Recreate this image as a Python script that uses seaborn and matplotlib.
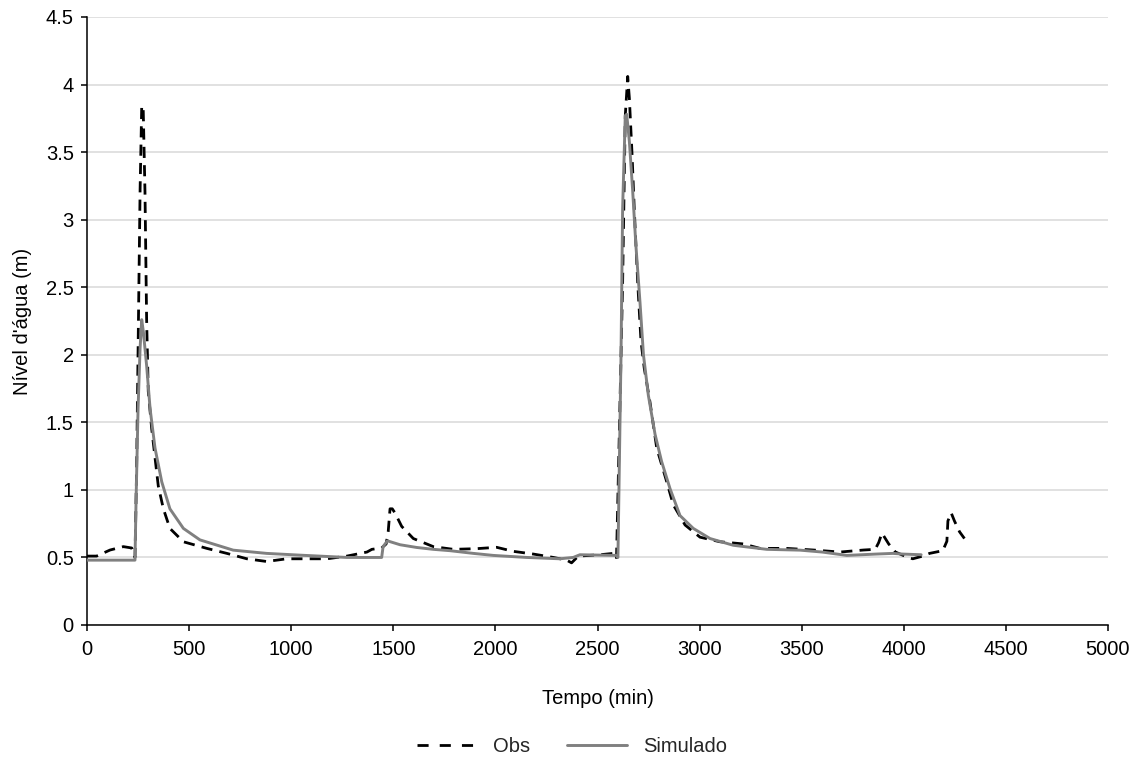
import matplotlib
matplotlib.use("Agg")
import matplotlib.pyplot as plt
import seaborn as sns
import pandas as pd
from matplotlib.lines import Line2D

# ---- data ----
obs_t = [0, 47, 113, 178, 219, 235, 243, 252, 260, 268,
         275, 284, 292, 300, 317, 349, 374, 406, 472, 587,
         685, 783, 880, 978, 1077, 1175, 1273,
         1371, 1395, 1443, 1465, 1475, 1484, 1495, 1508, 1541, 1598,
         1696, 1794, 1908, 2006, 2088, 2186, 2284, 2349, 2373, 2406,
         2512, 2577, 2593, 2607, 2623, 2636, 2648, 2656, 2669, 2680,
         2697, 2713, 2729, 2757, 2790, 2839, 2871, 2929, 3002, 3100,
         3214, 3296, 3427, 3557, 3688, 3803, 3860, 3877, 3893, 3926,
         3959, 4020, 4044, 4093, 4126, 4191, 4211, 4216, 4232, 4248,
         4273, 4297]
obs_v = [0.51, 0.51, 0.555, 0.58, 0.57, 0.5, 1.16, 2.26, 3.22, 3.84,
         3.84, 3.2, 2.26, 1.73, 1.45, 1.03, 0.86, 0.715, 0.616, 0.567,
         0.53, 0.49, 0.47, 0.49, 0.49, 0.49, 0.51,
         0.54, 0.56, 0.57, 0.60, 0.69, 0.86, 0.86, 0.83, 0.73, 0.64,
         0.58, 0.56, 0.565, 0.575, 0.545, 0.525, 0.5, 0.48, 0.46, 0.51,
         0.52, 0.53, 0.49, 1.43, 2.53, 3.77, 4.06, 3.9, 3.49, 3.08,
         2.53, 2.1, 1.9, 1.65, 1.31, 1.06, 0.89, 0.74, 0.65, 0.616,
         0.6, 0.567, 0.567, 0.555, 0.54, 0.555, 0.56, 0.61, 0.68, 0.6,
         0.54, 0.5, 0.49, 0.51, 0.53, 0.55, 0.62, 0.77, 0.83, 0.77,
         0.69, 0.64]

sim_t = [0, 235, 240, 250, 260, 268, 276, 292, 309, 333,
         366, 406, 472, 553, 716, 880, 1043, 1273,
         1443, 1450, 1471, 1533, 1614, 1696, 1778, 1892, 1990, 2153,
         2316, 2381, 2414, 2594, 2600, 2615, 2623, 2636, 2643, 2656,
         2672, 2688, 2708, 2725, 2749, 2782, 2814, 2855, 2904, 2969,
         3051, 3165, 3329, 3492, 3600, 3721, 3864, 3946, 3995, 4085]
sim_v = [0.48, 0.48, 0.9, 1.6, 2.05, 2.26, 2.17, 1.92, 1.60, 1.31,
         1.06, 0.86, 0.715, 0.63, 0.554, 0.53, 0.517, 0.5,
         0.5, 0.58, 0.623, 0.594, 0.574, 0.56, 0.55, 0.53, 0.515, 0.5,
         0.49, 0.5, 0.52, 0.515, 0.5, 1.98, 3.08, 3.77, 3.78, 3.58,
         3.22, 2.81, 2.39, 2.0, 1.70, 1.41, 1.21, 1.01, 0.81, 0.715,
         0.64, 0.59, 0.56, 0.554, 0.54, 0.515, 0.525, 0.53, 0.525, 0.52]

x_ticks = [0, 500, 1000, 1500, 2000, 2500, 3000, 3500, 4000, 4500, 5000]
y_ticks = [0, 0.5, 1, 1.5, 2, 2.5, 3, 3.5, 4, 4.5]
y_tick_labels = ["0", "0.5", "1", "1.5", "2", "2.5", "3", "3.5", "4", "4.5"]

sns.set_theme(style="white")
plt.rcParams['font.family'] = ['Liberation Sans', 'DejaVu Sans']

fig = plt.figure(figsize=(11.44, 7.62), dpi=100)
ax = fig.add_axes([87/1144, 1 - 625/762, (1108-87)/1144, (625-17)/762])

obs_df = pd.DataFrame({"t": obs_t, "v": obs_v})
sim_df = pd.DataFrame({"t": sim_t, "v": sim_v})

sns.lineplot(data=obs_df, x="t", y="v", ax=ax, color="black", linewidth=2.0,
             estimator=None, sort=False, zorder=3)
ax.lines[-1].set_dashes([4.0, 2.6])
sns.lineplot(data=sim_df, x="t", y="v", ax=ax, color="#808080", linewidth=2.1,
             estimator=None, sort=False, zorder=4)

ax.set_xlim(0, 5000)
ax.set_ylim(0, 4.5)
ax.set_xticks(x_ticks)
ax.set_xticklabels([str(v) for v in x_ticks])
ax.set_yticks(y_ticks)
ax.set_yticklabels(y_tick_labels)

ax.grid(axis="y", color="#d9d9d9", linewidth=1.1)
ax.grid(axis="x", visible=False)
ax.set_axisbelow(True)

for s in ["top", "right"]:
    ax.spines[s].set_visible(False)
for s in ["left", "bottom"]:
    ax.spines[s].set_color("black")
    ax.spines[s].set_linewidth(1.1)

ax.tick_params(axis="both", which="major", direction="out", length=4.5,
               width=1.1, color="black", labelsize=14.5, labelcolor="black",
               bottom=True, left=True)
ax.tick_params(axis="x", pad=6)
ax.tick_params(axis="y", pad=5)

ax.set_xlabel("Tempo (min)", fontsize=14.5, color="black", labelpad=22)
ax.set_ylabel("Nível d'água (m)", fontsize=14.5, color="black", labelpad=10)

handles = [Line2D([], [], color="black", linewidth=2.0, dashes=[4.0, 4.0]),
           Line2D([], [], color="#808080", linewidth=2.1)]
fig.legend(handles, ["Obs", "Simulado"], loc="center", bbox_to_anchor=(0.5, 1 - 747/762),
           ncol=2, frameon=False, fontsize=14.5, handlelength=3.0,
           columnspacing=1.8, handletextpad=0.8)

fig.savefig("out.png", dpi=100)
